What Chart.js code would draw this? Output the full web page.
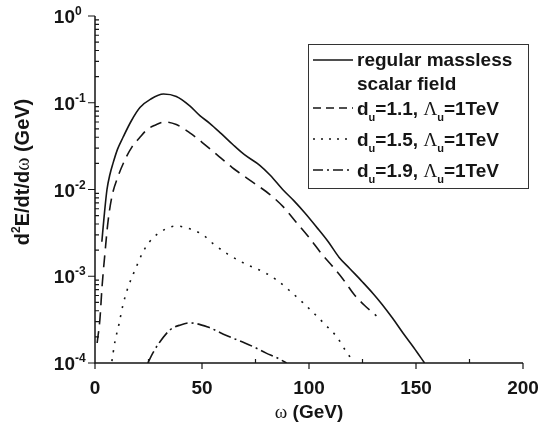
<!DOCTYPE html>
<html>
<head>
<meta charset="utf-8">
<script src="https://cdn.jsdelivr.net/npm/chart.js@4.4.0/dist/chart.umd.min.js"></script>
<style>
  html, body { margin: 0; padding: 0; background: #fff; }
  #wrap { position: relative; width: 538px; height: 434px; }
</style>
</head>
<body>
<div id="wrap"><canvas id="c"></canvas></div>
<script>
// omega (GeV) and d2E/dt/dw (GeV)
const regularW = [3.2, 4.3, 5.6, 7, 8.4, 10.5, 13.1, 17, 21, 26, 32, 38, 44.3, 49, 53.6, 59, 64.4, 70, 77, 82, 87.7, 93, 98, 103.5, 109, 114, 119, 125, 130, 134, 139, 144, 149, 154];
const regularV = [0.0025, 0.005, 0.010, 0.015, 0.020, 0.029, 0.040, 0.062, 0.088, 0.11, 0.126, 0.118, 0.092, 0.071, 0.058, 0.044, 0.033, 0.025, 0.019, 0.0145, 0.010, 0.0074, 0.0054, 0.0037, 0.0025, 0.00166, 0.00123, 0.00086, 0.00063, 0.00048, 0.00033, 0.00022, 0.00015, 0.0001];

const du11W = [1.0, 2.3, 3.3, 4.7, 6.1, 8, 10.7, 14, 17.3, 21, 24.3, 28, 32.7, 38, 44.3, 51.3, 58, 64, 67.6, 74, 81.6, 88, 94, 100, 106, 111, 116, 121, 126, 131.5];
const du11V = [0.00017, 0.00032, 0.00076, 0.0019, 0.0043, 0.0085, 0.014, 0.022, 0.031, 0.040, 0.049, 0.055, 0.060, 0.056, 0.045, 0.033, 0.024, 0.018, 0.0155, 0.012, 0.0088, 0.0063, 0.0042, 0.0028, 0.0018, 0.0013, 0.00092, 0.00062, 0.00046, 0.00035];

const du15W = [7.9, 9.3, 11.2, 13, 15.4, 18.7, 22.4, 25.5, 29.4, 33, 37.8, 43, 50.4, 55, 62, 70, 80, 85, 91, 97, 103, 108, 113, 117, 120];
const du15V = [0.000105, 0.000175, 0.00028, 0.00046, 0.00074, 0.00118, 0.0019, 0.0025, 0.0031, 0.0035, 0.0038, 0.0036, 0.0030, 0.0024, 0.0018, 0.0014, 0.00108, 0.0009, 0.00068, 0.0005, 0.00036, 0.00027, 0.0002, 0.00014, 0.00011];

const du19W = [24.7, 27, 30.3, 35, 40, 44.3, 52.7, 60, 64, 70, 75, 80, 85, 89.5];
const du19V = [0.0001, 0.00013, 0.000175, 0.00024, 0.000275, 0.00029, 0.00026, 0.000215, 0.000195, 0.00017, 0.00015, 0.00013, 0.000115, 0.0001];

const xMajorTicks = [0, 50, 100, 150, 200];
const xMinorTicks = [25, 75, 125, 175];
const yExponents = [0, -1, -2, -3, -4];
const duLabels = ['1.1', '1.5', '1.9'];

function pts(w, v) {
  return w.map((x, i) => ({ x: x, y: v[i] }));
}

const SANS = '"Liberation Sans", Arial, sans-serif';
const SERIF = '"Liberation Serif", "Times New Roman", serif';
const INK = '#151515';

// draw a row of text pieces with their own font and vertical offset
function drawRuns(ctx, x, y, runs) {
  let cx = x;
  runs.forEach(r => {
    ctx.font = r.font;
    ctx.fillText(r.t, cx, y + (r.dy || 0));
    cx += ctx.measureText(r.t).width;
  });
  return cx;
}
function runsWidth(ctx, runs) {
  let w = 0;
  runs.forEach(r => { ctx.font = r.font; w += ctx.measureText(r.t).width; });
  return w;
}

const lineStyles = [
  { dash: [] },
  { dash: [12, 7] },
  { dash: [2, 7] },
  { dash: [13, 4, 2, 4] }
];

const frame = {
  id: 'frame',
  afterDraw(chart) {
    const ctx = chart.ctx;
    const xs = chart.scales.x, ys = chart.scales.y;
    const a = chart.chartArea;
    ctx.save();
    ctx.strokeStyle = INK;
    ctx.fillStyle = INK;
    ctx.lineWidth = 1.5;

    // axis lines
    ctx.beginPath();
    ctx.moveTo(a.left, a.top);
    ctx.lineTo(a.left, a.bottom);
    ctx.lineTo(a.right, a.bottom);
    ctx.stroke();

    // x ticks
    ctx.lineWidth = 1.2;
    ctx.beginPath();
    xMajorTicks.forEach(v => {
      const px = xs.getPixelForValue(v);
      ctx.moveTo(px, a.bottom); ctx.lineTo(px, a.bottom + 6);
    });
    xMinorTicks.forEach(v => {
      const px = xs.getPixelForValue(v);
      ctx.moveTo(px, a.bottom); ctx.lineTo(px, a.bottom - 4);
    });
    // y ticks
    yExponents.forEach(e => {
      const py = ys.getPixelForValue(Math.pow(10, e));
      ctx.moveTo(a.left - 7, py); ctx.lineTo(a.left, py);
      if (e > -4) {
        for (let m = 2; m <= 9; m++) {
          const my = ys.getPixelForValue(m * Math.pow(10, e - 1));
          ctx.moveTo(a.left, my); ctx.lineTo(a.left + 4, my);
        }
      }
    });
    ctx.stroke();

    // tick labels
    ctx.textBaseline = 'alphabetic';
    ctx.textAlign = 'center';
    ctx.font = 'bold 19px ' + SANS;
    xMajorTicks.forEach(v => {
      ctx.fillText(String(v), xs.getPixelForValue(v), a.bottom + 31);
    });
    yExponents.forEach(e => {
      const py = ys.getPixelForValue(Math.pow(10, e));
      ctx.textAlign = 'right';
      ctx.font = 'bold 19px ' + SANS;
      ctx.fillText('10', 75, py + 7);
      ctx.textAlign = 'left';
      ctx.font = 'bold 12px ' + SANS;
      ctx.fillText(String(e), 75, py - 1);
    });

    // axis titles
    ctx.textAlign = 'left';
    const xTitle = [
      { t: '\u03c9', font: '19px ' + SERIF },
      { t: ' (GeV)', font: 'bold 19px ' + SANS }
    ];
    drawRuns(ctx, 309 - runsWidth(ctx, xTitle) / 2, 418, xTitle);

    const yTitle = [
      { t: 'd', font: 'bold 20px ' + SANS },
      { t: '2', font: 'bold 12px ' + SANS, dy: -9 },
      { t: 'E/dt/d', font: 'bold 20px ' + SANS },
      { t: '\u03c9', font: '20px ' + SERIF },
      { t: ' (GeV)', font: 'bold 20px ' + SANS }
    ];
    ctx.save();
    ctx.translate(29, 172);
    ctx.rotate(-Math.PI / 2);
    drawRuns(ctx, -runsWidth(ctx, yTitle) / 2, 0, yTitle);
    ctx.restore();

    // legend
    ctx.fillStyle = '#fff';
    ctx.fillRect(308.5, 44.5, 220, 144);
    ctx.strokeStyle = '#333';
    ctx.lineWidth = 1;
    ctx.strokeRect(308.5, 44.5, 220, 144);

    const rows = [60, 108, 139, 170];
    ctx.strokeStyle = INK;
    ctx.lineWidth = 1.5;
    rows.forEach((ry, i) => {
      ctx.setLineDash(i === 1 ? [8, 5] : i === 2 ? [2, 6] : i === 3 ? [10, 4, 2, 4] : []);
      ctx.beginPath();
      ctx.moveTo(313, ry); ctx.lineTo(353, ry);
      ctx.stroke();
    });
    ctx.setLineDash([]);
    ctx.fillStyle = INK;
    ctx.font = 'bold 19px ' + SANS;
    ctx.fillText('regular massless', 357, 66);
    ctx.fillText('scalar field', 357, 90);
    duLabels.forEach((d, i) => {
      drawRuns(ctx, 357, rows[i + 1] + 7, [
        { t: 'd', font: 'bold 19px ' + SANS },
        { t: 'u', font: 'bold 11px ' + SANS, dy: 6 },
        { t: '=' + d + ', ', font: 'bold 19px ' + SANS },
        { t: '\u039b', font: '19px ' + SERIF },
        { t: 'u', font: 'bold 11px ' + SANS, dy: 6 },
        { t: '=1TeV', font: 'bold 19px ' + SANS }
      ]);
    });
    ctx.restore();
  }
};

const series = [
  pts(regularW, regularV),
  pts(du11W, du11V),
  pts(du15W, du15V),
  pts(du19W, du19V)
];

new Chart(document.getElementById('c'), {
  type: 'line',
  data: {
    datasets: series.map((d, i) => ({
      data: d,
      borderColor: INK,
      borderWidth: 1.6,
      borderDash: lineStyles[i].dash,
      pointRadius: 0,
      fill: false,
      cubicInterpolationMode: 'monotone'
    }))
  },
  options: {
    responsive: true,
    maintainAspectRatio: false,
    animation: false,
    events: [],
    layout: { padding: { left: 95, top: 16, right: 15, bottom: 71 } },
    scales: {
      x: { type: 'linear', min: 0, max: 200, display: false },
      y: { type: 'logarithmic', min: 1e-4, max: 1, display: false }
    },
    plugins: {
      legend: { display: false },
      tooltip: { enabled: false }
    }
  },
  plugins: [frame]
});
</script>
</body>
</html>
